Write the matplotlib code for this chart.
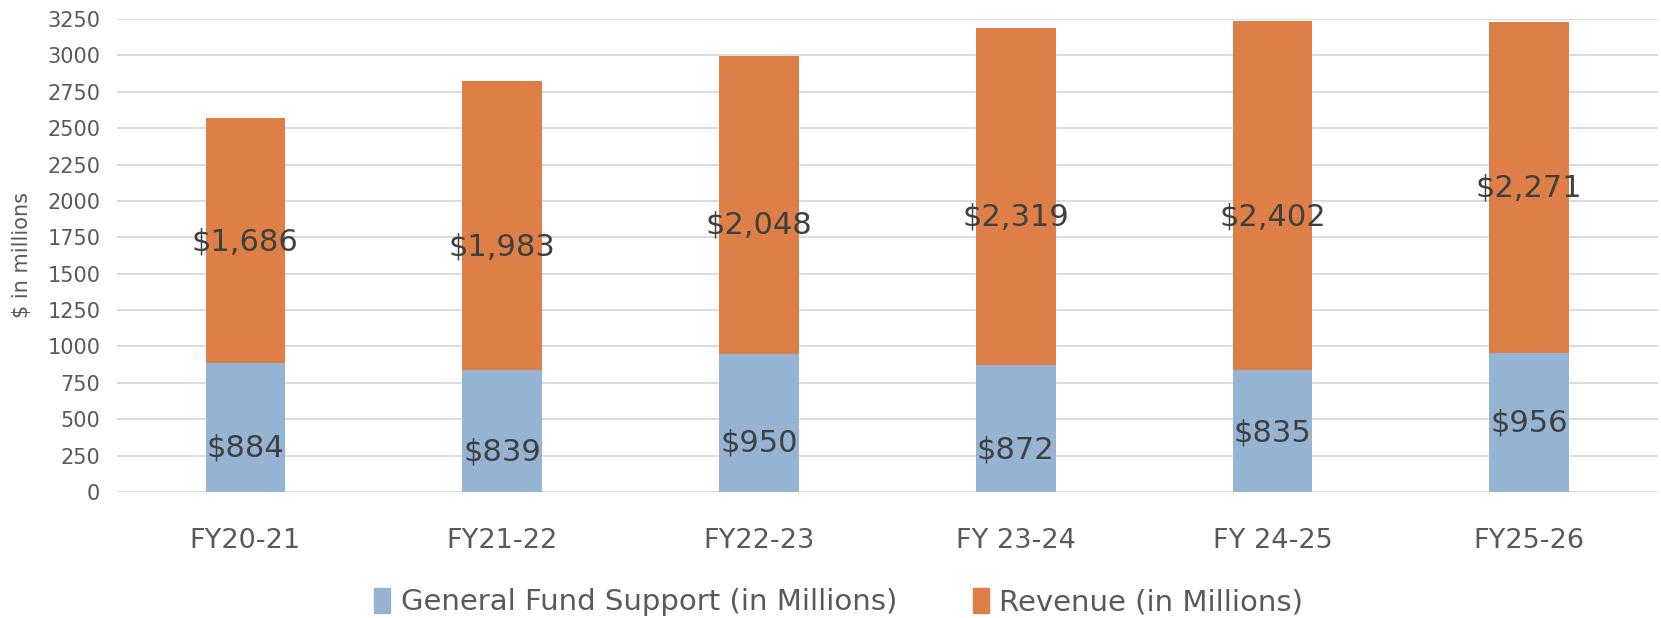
#!/usr/bin/env python3
"""Stacked bars: general fund support vs revenue by fiscal year."""

import matplotlib
matplotlib.use('Agg')
import matplotlib.pyplot as plt
from matplotlib.patches import Patch

years = ['FY20-21', 'FY21-22', 'FY22-23', 'FY 23-24', 'FY 24-25', 'FY25-26']
general_fund = [884, 839, 950, 872, 835, 956]
revenue = [1686, 1983, 2048, 2319, 2402, 2271]

# label heights as placed in the original (moved by hand, not centred)
gf_label_y = [302, 275, 337, 288, 405, 474]
rev_label_y = [1717, 1683, 1834, 1889, 1889, 2088]

BLUE = '#95B3D3'
ORANGE = '#DD7F47'
TEXT = '#404040'
TICK = '#595959'
GRID = '#D9D9D9'

plt.rcParams['font.family'] = ['DejaVu Sans']

fig = plt.figure(figsize=(16.61, 6.18), dpi=100)
ax = fig.add_axes([0.0704, 0.2039, 0.9276, 0.7654])

x = list(range(len(years)))
width = 0.31
ax.bar(x, general_fund, width, color=BLUE, zorder=3)
ax.bar(x, revenue, width, bottom=general_fund, color=ORANGE, zorder=3)

for i in x:
    ax.text(i, gf_label_y[i], f'${general_fund[i]:,}', ha='center', va='center',
            fontsize=22, color=TEXT, zorder=4)
    ax.text(i, rev_label_y[i], f'${revenue[i]:,}', ha='center', va='center',
            fontsize=22, color=TEXT, zorder=4)

ax.set_xlim(-0.5, len(years) - 0.5)
ax.set_ylim(0, 3250)
ax.set_yticks(range(0, 3251, 250))
ax.set_xticks(x)
ax.set_xticklabels(years)
ax.tick_params(axis='y', length=0, pad=12, labelsize=15, labelcolor=TICK)
ax.tick_params(axis='x', length=0, pad=26, labelsize=19.5, labelcolor=TICK)
ax.grid(axis='y', color=GRID, linewidth=1.3, zorder=0)
for side in ['top', 'right', 'left', 'bottom']:
    ax.spines[side].set_visible(False)

ax.set_ylabel('$ in millions', fontsize=15, color=TICK)
ax.yaxis.set_label_coords(-0.055, 0.5)

handles = [Patch(color=BLUE), Patch(color=ORANGE)]
fig.legend(handles, ['General Fund Support (in Millions)', 'Revenue (in Millions)'],
           loc='lower center', bbox_to_anchor=(0.505, -0.04), ncol=2, frameon=False,
           fontsize=21, labelcolor=TICK, handlelength=0.55, handleheight=0.9,
           handletextpad=0.35, columnspacing=2.6)

fig.savefig('out.png', dpi=100)
